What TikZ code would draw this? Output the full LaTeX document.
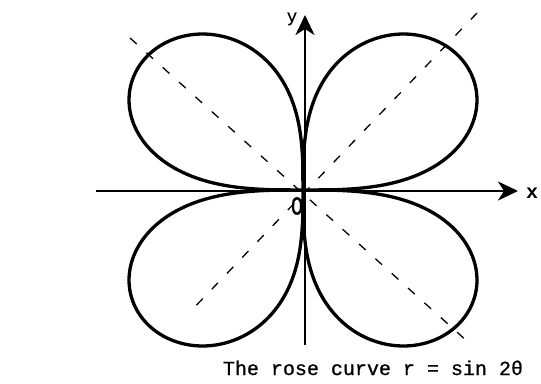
\documentclass[tikz,border=0pt]{standalone}
\usepackage{fontspec}
\setmonofont{Liberation Mono}
\newfontfamily\capfont[FakeBold=0.8]{Liberation Mono}
\usetikzlibrary{arrows.meta}
\begin{document}
\begin{tikzpicture}[x=1pt,y=-1pt,
  axis/.style={line width=2.3pt,-{Stealth[length=20pt,width=19pt,inset=6pt]}},
  diag/.style={line width=1.3pt,dash pattern=on 9pt off 13pt},
  petal/.style={line width=3.3pt,line join=round},
  lbl/.style={font=\capfont\fontsize{20}{20}\selectfont,inner sep=0pt}]
\useasboundingbox (0,0) rectangle (541,383);
% dashed diagonals
\coordinate (d1a) at (130,38);
\coordinate (d1b) at (468,342);
\coordinate (d2a) at (477,13);
\coordinate (d2b) at (188,314);
\draw[diag] (d1a) -- (d1b);
\draw[diag] (d2a) -- (d2b);
% rose curve
\begin{scope}[shift={(303,190)}]
\draw[petal] plot[domain=0:360,samples=721,smooth cycle]
  ({174*sqrt(abs(sin(2*\x)))*cos(\x)/0.806},{156*sqrt(abs(sin(2*\x)))*sin(\x)/0.806});
\end{scope}
% axes
\coordinate (xl) at (96,191);
\coordinate (xr) at (518,191);
\coordinate (yb) at (305,345);
\coordinate (yt) at (305,15);
\draw[axis] (xl) -- (xr);
\draw[axis] (yb) -- (yt);
% labels
\node[lbl,anchor=west,font=\ttfamily\bfseries\fontsize{20}{20}\selectfont] (xlab) at (526,193) {x};
\node[lbl,font=\capfont\fontsize{17}{17}\selectfont] (ylab) at (292,19) {y};
\node[lbl,yscale=1.3] (olab) at (297,206) {O};
\node[lbl,anchor=base] (cap) at (373,375) {The rose curve r = sin 2θ};
\end{tikzpicture}
\end{document}
